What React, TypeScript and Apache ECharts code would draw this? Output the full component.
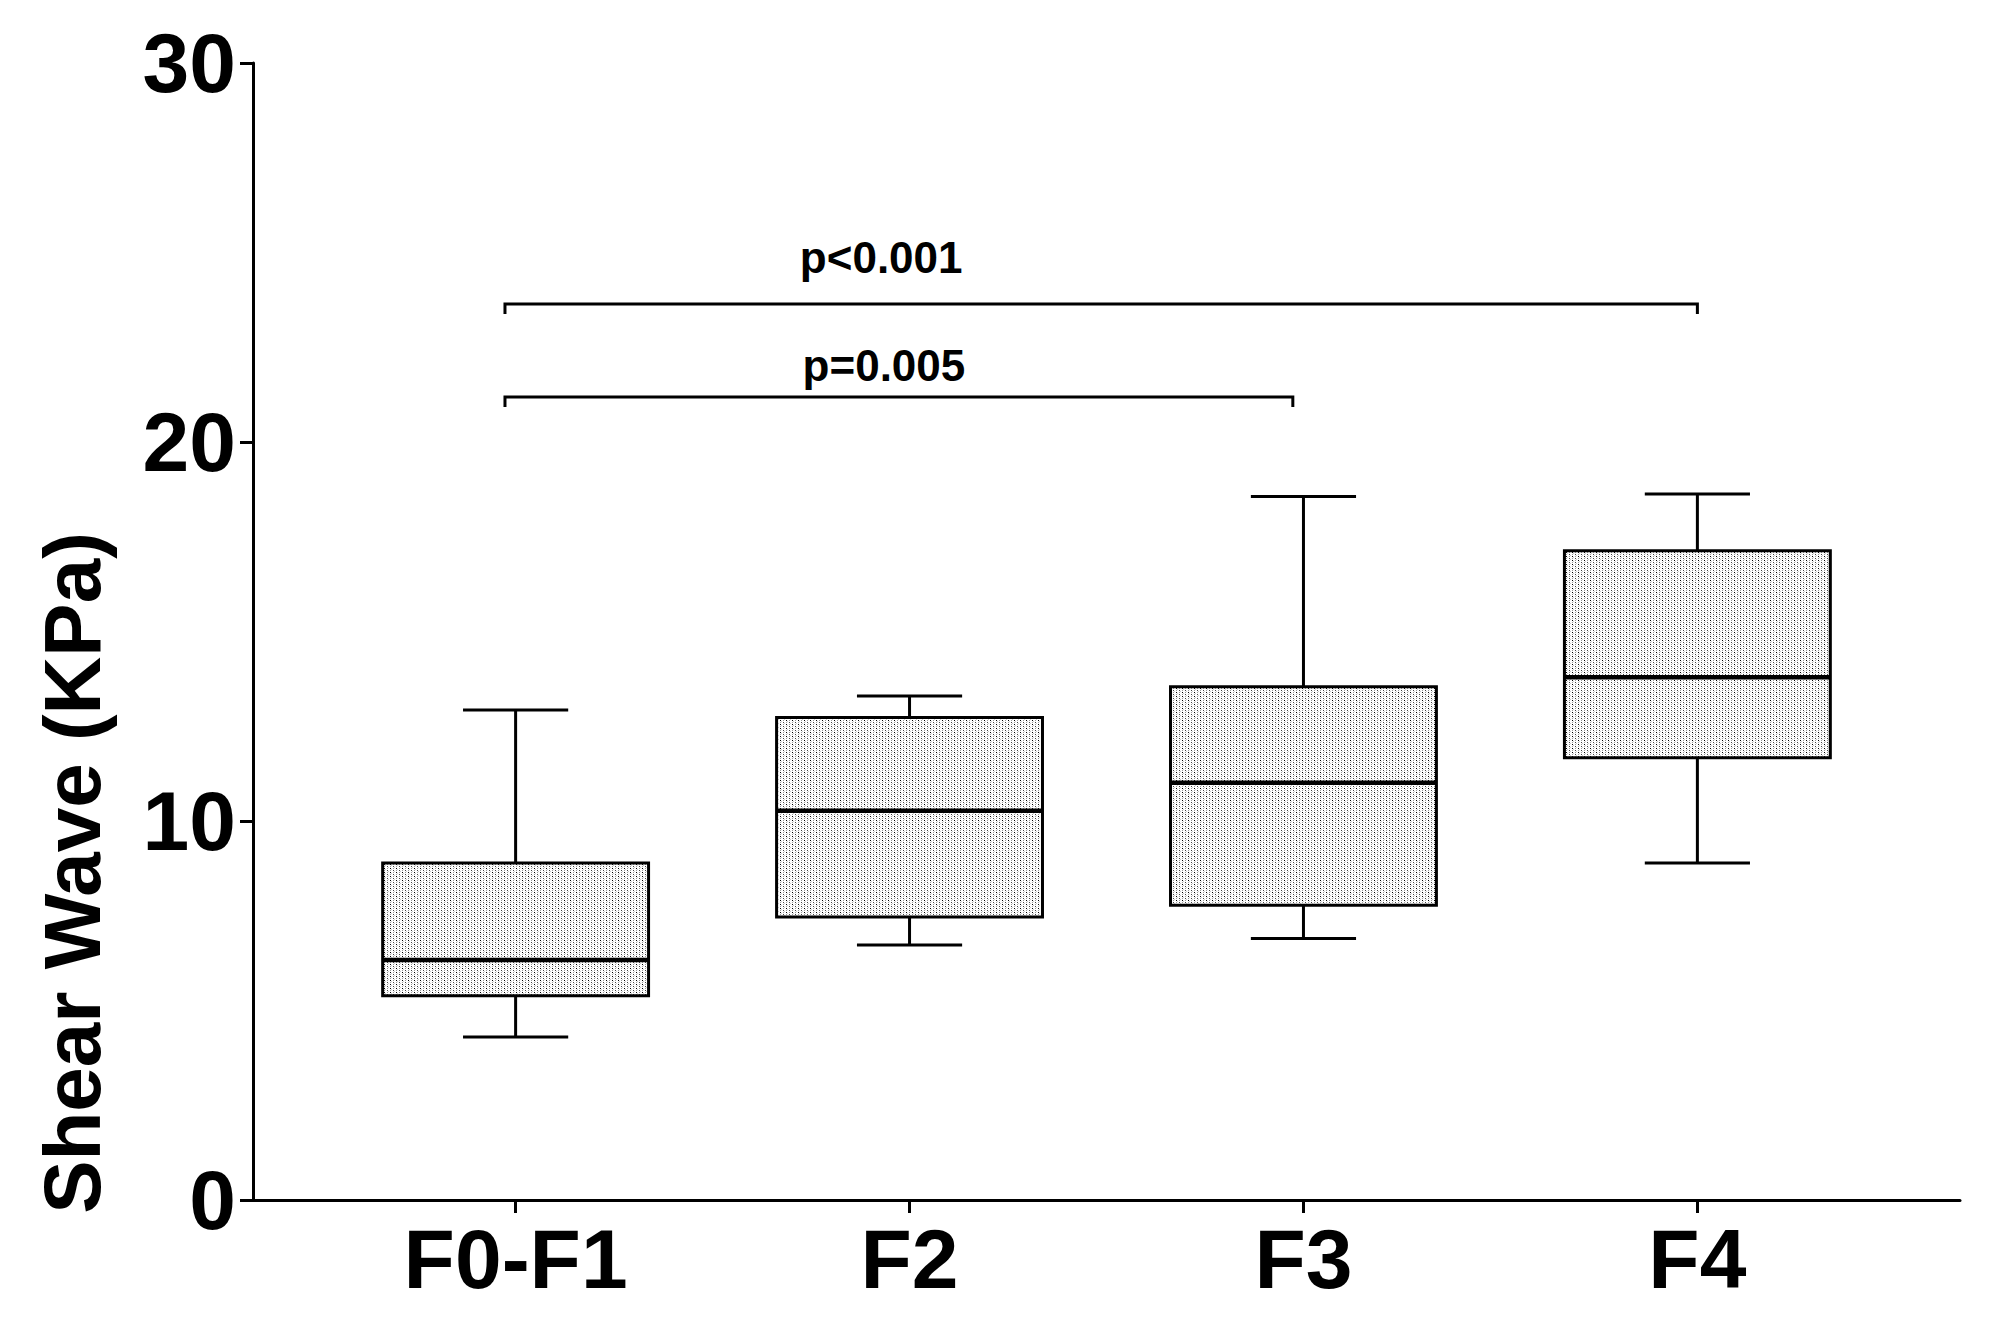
import React, { useEffect, useRef } from "react";
import * as echarts from "echarts";

// ---- data ----
const categories = ["F0-F1", "F2", "F3", "F4"];
const whiskerLow = [4.3, 6.73, 6.9, 8.89];
const quartile1 = [5.39, 7.47, 7.78, 11.67];
const medians = [6.33, 10.27, 11.01, 13.79];
const quartile3 = [8.89, 12.73, 13.54, 17.13];
const whiskerHigh = [12.93, 13.3, 18.56, 18.63];

const yTicks = [0, 10, 20, 30];

const bracketStart = [0.973, 0.973];
const bracketEnd = [4.0, 2.973];
const bracketLevel = [23.64, 21.19];
const bracketLabel = ["p<0.001", "p=0.005"];
const bracketLabelX = [1.928, 1.935];
const bracketLabelY = [24.88, 22.02];

const FONT = "'Liberation Sans', Arial, Helvetica, sans-serif";

export default function App() {
  const ref = useRef<HTMLDivElement>(null);

  useEffect(() => {
    if (!ref.current) return;
    const chart = echarts.init(ref.current, null, { renderer: "svg" });

    // stipple pattern tile
    const tile = document.createElement("canvas");
    tile.width = 6;
    tile.height = 4;
    const ctx = tile.getContext("2d")!;
    ctx.fillStyle = "#ffffff";
    ctx.fillRect(0, 0, 6, 4);
    ctx.fillStyle = "#000000";
    ctx.fillRect(0, 0, 1, 1);
    ctx.fillStyle = "#444444";
    ctx.fillRect(3, 2, 1, 1);
    ctx.fillStyle = "#999999";
    ctx.fillRect(3, 0, 1, 1);
    ctx.fillRect(0, 2, 1, 1);
    ctx.fillStyle = "#d0d0d0";
    ctx.fillRect(1, 1, 1, 1);
    ctx.fillRect(4, 3, 1, 1);
    const pattern: any = { image: tile, repeat: "repeat" };

    const boxData = categories.map((c, i) => [
      i + 1,
      whiskerLow[i],
      quartile1[i],
      medians[i],
      quartile3[i],
      whiskerHigh[i],
    ]);

    const bracketData = bracketLabel.map((l, i) => [
      bracketStart[i],
      bracketEnd[i],
      bracketLevel[i],
      bracketLabelX[i],
      bracketLabelY[i],
    ]);

    const BOX_W = 0.675;
    const CAP_W = 0.267;

    chart.setOption({
      animation: false,
      backgroundColor: "#ffffff",
      grid: { left: 253, right: 42, top: 63, bottom: 126 },
      xAxis: {
        type: "value",
        min: 1 / 3,
        max: 14 / 3,
        splitLine: { show: false },
        axisLine: { show: true, lineStyle: { color: "#000", width: 3 } },
        axisTick: {
          show: true,
          length: 13,
          lineStyle: { color: "#000", width: 3 },
          customValues: [1, 2, 3, 4],
        },
        axisLabel: {
          customValues: [1, 2, 3, 4],
          formatter: (v: number) => categories[Math.round(v) - 1] ?? "",
          color: "#000",
          fontSize: 84,
          fontWeight: "bold",
          fontFamily: FONT,
          margin: 17,
        },
      },
      yAxis: {
        type: "value",
        min: 0,
        max: 30,
        interval: 10,
        splitLine: { show: false },
        axisLine: { show: true, lineStyle: { color: "#000", width: 3 } },
        axisTick: { show: true, length: 13, lineStyle: { color: "#000", width: 3 } },
        axisLabel: {
          color: "#000",
          fontSize: 84,
          fontWeight: "bold",
          fontFamily: FONT,
          margin: 17,
          formatter: (v: number) => (yTicks.includes(v) ? String(v) : ""),
        },
      },
      graphic: [
        {
          type: "text",
          x: 72,
          y: 873,
          rotation: Math.PI / 2,
          style: {
            text: "Shear Wave (KPa)",
            fill: "#000",
            fontSize: 80,
            fontWeight: "bold",
            fontFamily: FONT,
            align: "center",
            verticalAlign: "middle",
          },
        },
      ],
      series: [
        {
          type: "custom",
          data: boxData,
          encode: { x: 0, y: [1, 2, 3, 4, 5] },
          renderItem: (params: any, api: any) => {
            const x = api.value(0);
            const pLo = api.coord([x, api.value(1)]);
            const pQ1 = api.coord([x, api.value(2)]);
            const pMed = api.coord([x, api.value(3)]);
            const pQ3 = api.coord([x, api.value(4)]);
            const pHi = api.coord([x, api.value(5)]);
            const cx = pMed[0];
            const bw = api.size([BOX_W, 0])[0];
            const cw = api.size([CAP_W, 0])[0];
            const ls = { stroke: "#000", lineWidth: 3 };
            return {
              type: "group",
              children: [
                { type: "line", shape: { x1: cx, y1: pHi[1], x2: cx, y2: pQ3[1] }, style: ls },
                { type: "line", shape: { x1: cx - cw / 2, y1: pHi[1], x2: cx + cw / 2, y2: pHi[1] }, style: ls },
                { type: "line", shape: { x1: cx, y1: pQ1[1], x2: cx, y2: pLo[1] }, style: ls },
                { type: "line", shape: { x1: cx - cw / 2, y1: pLo[1], x2: cx + cw / 2, y2: pLo[1] }, style: ls },
                {
                  type: "rect",
                  shape: { x: cx - bw / 2, y: pQ3[1], width: bw, height: pQ1[1] - pQ3[1] },
                  style: { fill: pattern, stroke: "#000", lineWidth: 3 },
                },
                {
                  type: "line",
                  shape: { x1: cx - bw / 2, y1: pMed[1], x2: cx + bw / 2, y2: pMed[1] },
                  style: { stroke: "#000", lineWidth: 4.5 },
                },
              ],
            };
          },
          z: 3,
        },
        {
          type: "custom",
          data: bracketData,
          encode: { x: [0, 1, 3], y: [2, 4] },
          renderItem: (params: any, api: any) => {
            const i = params.dataIndex;
            const a = api.coord([api.value(0), api.value(2)]);
            const b = api.coord([api.value(1), api.value(2)]);
            const t = api.coord([api.value(3), api.value(4)]);
            const drop = 10;
            return {
              type: "group",
              children: [
                {
                  type: "polyline",
                  shape: {
                    points: [
                      [a[0], a[1] + drop],
                      [a[0], a[1]],
                      [b[0], b[1]],
                      [b[0], b[1] + drop],
                    ],
                  },
                  style: { stroke: "#000", lineWidth: 3, fill: "none" },
                },
                {
                  type: "text",
                  x: t[0],
                  y: t[1],
                  style: {
                    text: bracketLabel[i],
                    fill: "#000",
                    fontSize: 44,
                    fontWeight: "bold",
                    fontFamily: FONT,
                    align: "center",
                    verticalAlign: "middle",
                  },
                },
              ],
            };
          },
          z: 4,
        },
      ],
    });

    return () => chart.dispose();
  }, []);

  return (
    <div
      ref={ref}
      style={{ position: "fixed", left: 0, top: 0, width: 2002, height: 1326, background: "#fff" }}
    />
  );
}
